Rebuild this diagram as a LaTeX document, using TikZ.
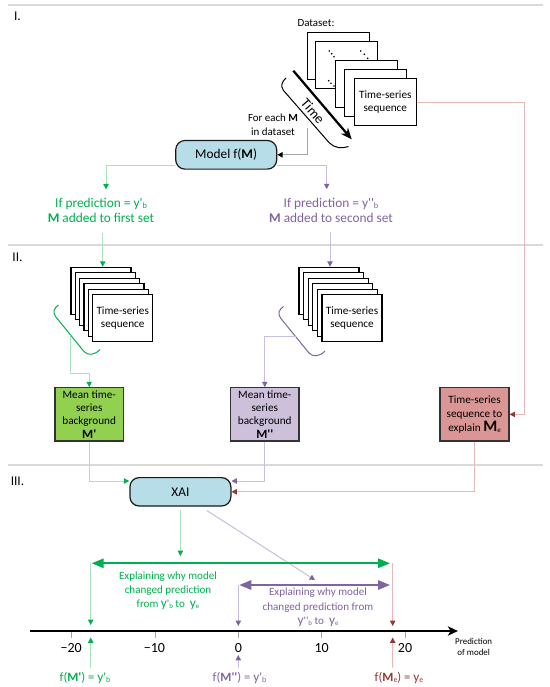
\documentclass[tikz,border=0pt]{standalone}
\usepackage{fontspec}
\newfontfamily\calfont{Carlito}
\usetikzlibrary{arrows.meta,calc}
\definecolor{gtxt}{HTML}{00B050}
\definecolor{gline}{HTML}{A8E4BC}
\definecolor{ptxt}{HTML}{8064A2}
\definecolor{pline}{HTML}{C9BEDD}
\definecolor{rtxt}{HTML}{953735}
\definecolor{rline}{HTML}{E6B9B8}
\definecolor{sepc}{HTML}{D9D9D9}
\definecolor{gfill}{HTML}{92D050}
\definecolor{pfill}{HTML}{CCC0DA}
\definecolor{rfill}{HTML}{DA9694}
\definecolor{bfill}{HTML}{B7DEE8}
\definecolor{conngray}{HTML}{A6A6A6}
\definecolor{tickgray}{HTML}{A6A6A6}
\newcommand{\sbx}[1]{\raisebox{-0.15ex}{\scalebox{0.62}{#1}}}
\newcommand{\yb}{{\fontsize{10}{10}\selectfont y}}
\begin{document}
\begin{tikzpicture}[x=0.75pt,y=-0.75pt,
 sepline/.style={draw=sepc,line width=0.8pt},
 fsec/.style={font=\calfont\fontsize{10}{12}\selectfont},
 fmain/.style={font=\calfont\fontsize{10}{11.7}\selectfont,align=center},
 fbox/.style={font=\calfont\fontsize{8.4}{10}\selectfont,align=center},
 fsmall/.style={font=\calfont\fontsize{8.2}{10.5}\selectfont,align=center},
 fexp/.style={font=\calfont\fontsize{8.3}{10.6}\selectfont,align=center},
 flab/.style={font=\calfont\fontsize{9.5}{11}\selectfont},
 ftick/.style={font=\calfont\fontsize{10.5}{12}\selectfont},
 ftiny/.style={font=\calfont\fontsize{6.7}{8.2}\selectfont,align=center},
 dsbox/.style={draw=black,fill=white,line width=0.75pt,minimum width=46.5pt,minimum height=35.25pt,inner sep=0pt,fbox},
 stbox/.style={draw=black,fill=white,line width=0.8pt,minimum width=45pt,minimum height=35.25pt,inner sep=0pt,fbox},
 colbox/.style={draw=black!80,line width=0.9pt,minimum width=51.2pt,minimum height=40pt,inner sep=0pt,fbox},
 procbox/.style={draw=black!90,fill=bfill,line width=0.9pt,rounded corners=7pt,minimum width=75.75pt,minimum height=21.5pt,inner sep=0pt,font=\calfont\fontsize{10}{12}\selectfont},
 gconn/.style={draw=gline,line width=0.75pt,-{Triangle[length=4pt,width=4pt,color=gtxt]}},
 pconn/.style={draw=pline,line width=0.75pt,-{Triangle[length=4pt,width=4pt,color=ptxt]}},
 rconn/.style={draw=rline,line width=0.75pt,-{Triangle[length=4pt,width=4pt,color=rtxt]}},
 kconn/.style={draw=conngray,line width=0.9pt,-{Triangle[length=4pt,width=4pt,color=black]}},
 gthick/.style={draw=gtxt,line width=1.5pt,{Triangle[length=9pt,width=7pt]}-{Triangle[length=9pt,width=7pt]}},
 pthick/.style={draw=ptxt,line width=1.5pt,{Triangle[length=9pt,width=7pt]}-{Triangle[length=9pt,width=7pt]}},
 tickln/.style={draw=tickgray,line width=0.6pt},
 dsdot/.style={fill=black,circle,inner sep=0pt,minimum size=1.4pt}
]
\fill[white] (0,0) rectangle (550,687);
\path[use as bounding box] (0,0) rectangle (550,687);

% separators
\draw[sepline] (8,5) -- (543,5);
\draw[sepline] (8,245) -- (543,245);
\draw[sepline] (8,465) -- (543,465);
\node[fsec] (secI) at (17.5,16.7) {I.};
\node[fsec] (secII) at (17.5,257) {II.};
\node[fsec] (secIII) at (17.5,481.7) {III.};

% ---------- Section I ----------
\node[fsmall] (dstitle) at (316,23) {Dataset:};
\node[dsbox] (ds1) at (338.3,56.2) {};
\node[dsbox] (ds2) at (346.7,64.8) {};
\node[dsdot] (d1) at (329.3,51) {};
\node[dsdot] (d2) at (331.7,53.7) {};
\node[dsdot] (d3) at (334,56.7) {};
\node[dsdot] (d4) at (360.7,51) {};
\node[dsdot] (d5) at (364.3,54.3) {};
\node[dsdot] (d6) at (367.7,58.3) {};
\node[dsdot] (d7) at (328.7,80.7) {};
\node[dsdot] (d8) at (331,83.3) {};
\node[dsdot] (d9) at (334,86) {};
\node[dsbox] (ds3) at (366.7,83.5) {};
\node[dsbox] (ds4) at (375.3,92.8) {};
\node[dsbox] (ds5) at (385.3,102.2) {Time-series\\sequence};

\coordinate (tA) at (293.3,70.7);
\coordinate (tB) at (351.7,139.3);
\draw[line width=1.7pt,-{Stealth[length=8.5pt,width=7pt]}] (tA) -- (tB);
\node[font=\calfont\fontsize{10.5}{12}\selectfont,rotate=-49.5,inner sep=0pt] (timelbl) at (313,111) {Time};
\draw[line width=0.75pt] (286,78) .. controls (281.5,82) and (280.5,86) .. (283.5,90.5)
  -- (329,142.5) .. controls (334,148) and (342,149) .. (348.5,146.5);

\node[fsmall] (foreach) at (273,125) {For each \textbf{M}\\in dataset};
\node[procbox] (model) at (226.2,154.8) {Model f(\textbf{M})};
\coordinate (fe) at (307.3,127.5);
\draw[kconn] (fe) |- (model.east);

\node[fmain,text=gtxt] (gtext) at (101,210.5) {If prediction = y'\sbx{b}\\\textbf{M} added to first set};
\node[fmain,text=ptxt] (ptext) at (331,210.3) {If prediction = y''\sbx{b}\\\textbf{M} added to second set};
\draw[gconn] ($(model.west)+(0,10.9)$) -| ($(gtext.north)+(5,-4)$);
\draw[pconn] ($(model.east)+(0,10.2)$) -| ($(ptext.north)+(-4.3,-4)$);

% ---------- Section II ----------
\node[stbox] (gs1) at (101,290.8) {};
\node[stbox] (gs2) at (105.3,296.3) {};
\node[stbox] (gs3) at (109.7,301.8) {};
\node[stbox] (gs4) at (114,307.2) {};
\node[stbox] (gs5) at (118.4,312.7) {};
\node[stbox] (gs6) at (122.7,318.2) {Time-series\\sequence};

\node[stbox] (ps1) at (329,290.8) {};
\node[stbox] (ps2) at (333.6,296.3) {};
\node[stbox] (ps3) at (338.2,301.8) {};
\node[stbox] (ps4) at (342.8,307.2) {};
\node[stbox] (ps5) at (347.4,312.7) {};
\node[stbox] (ps6) at (352,318.2) {Time-series\\sequence};

\draw[gconn] ($(gtext.south)+(1.7,5)$) -- ($(gs1.north)+(1.7,0)$);
\draw[pconn] ($(ptext.south)+(-1,5)$) -- ($(ps1.north)+(1,0)$);

\draw[draw=gtxt,line width=0.75pt] (58.5,305) .. controls (54,308) and (52.5,312) .. (55.5,316.5)
  -- (84,351.5) .. controls (88,356) and (95,355) .. (100,349.5);
\draw[draw=ptxt,line width=0.75pt] (283.5,306.5) .. controls (279,309.5) and (277.5,313.5) .. (280.5,318)
  -- (309,353) .. controls (313,357.5) and (320,356.5) .. (325,351);

\node[colbox,fill=gfill] (gbox) at (89.2,414.4) {Mean time-\\series\\background\\\textbf{\fontsize{9.5}{10}\selectfont M'}};
\node[colbox,fill=pfill] (pbox) at (264.8,414.4) {Mean time-\\series\\background\\\textbf{\fontsize{9.5}{10}\selectfont M''}};
\node[colbox,fill=rfill,minimum width=51.8pt,font=\calfont\fontsize{8.4}{10.6}\selectfont] (rbox) at (474.5,414.4) {Time-series\\sequence to\\explain \textbf{\fontsize{12}{10}\selectfont M}\sbx{e}};

\coordinate (gbr) at (70.7,335.2);
\coordinate (pbr) at (295.6,336.5);
\draw[gconn] (gbr) |- ($(gbox.north)+(0,-13.4)$) -- (gbox.north);
\draw[pconn] (pbr) -| (pbox.north);
\draw[rconn] (ds5.east) -| ($(rbox.east)+(15.1,0)$) -- (rbox.east);

% ---------- Section III ----------
\node[procbox,minimum height=21.3pt] (xai) at (180.4,491.8) {XAI};
\draw[gconn] (gbox.south) |- ($(xai.west)+(0,-10.8)$);
\draw[pconn] (pbox.south) |- ($(xai.east)+(0,-10.8)$);
\draw[rconn] (rbox.south) |- (xai.east);

\coordinate (xg) at (180.4,556);
\coordinate (xp) at (315,580);
\draw[gconn] ($(xai.south)+(0,3)$) -- (xg);
\draw[pconn] ($(xai.south)+(26.6,4)$) -- (xp);

% number line
\foreach \tx in {71.7,155,238.3,321.7,405} \draw[tickln] (\tx,631) -- (\tx,637.5);
\coordinate (ax0) at (29.8,631);
\coordinate (ax1) at (457.9,631);
\draw[line width=1.5pt,-{Stealth[length=7.5pt,width=7pt,inset=2pt]}] (ax0) -- (ax1);
\node[ftick] (tm20) at (71.2,647.5) {−20};
\node[ftick] (tm10) at (154.5,647.5) {−10};
\node[ftick] (t0) at (238.3,647.5) {0};
\node[ftick] (t10) at (321.7,647.5) {10};
\node[ftick] (t20) at (405,647.5) {20};
\node[ftiny] (predlbl) at (473.7,647.2) {Prediction\\of model};

% double arrows
\coordinate (gL) at (91.7,563.3);
\coordinate (gR) at (390,563.3);
\coordinate (pL) at (239.3,585);
\coordinate (pR) at (390,585);
\draw[gthick] (gL) -- (gR);
\draw[pthick] (pL) -- (pR);

\node[fexp,text=gtxt] (gexp) at (168,590.5) {Explaining why model\\changed prediction\\from \yb'\sbx{b} to\ \ \yb\sbx{e}};
\node[fexp,text=ptxt] (pexp) at (318,607.3) {Explaining why model\\changed prediction from\\\yb''\sbx{b} to\ \ \yb\sbx{e}};

% markers on axis
\coordinate (gv0) at (90.7,563.3);
\coordinate (gv1) at (90.7,625);
\coordinate (pv0) at (238.3,585);
\coordinate (pv1) at (238.3,626);
\coordinate (rv0) at (392.7,563.3);
\coordinate (rv1) at (392.7,626);
\draw[gconn] (gv0) -- (gv1);
\draw[pconn] (pv0) -- (pv1);
\draw[rconn] (rv0) -- (rv1);

\node[flab,text=gtxt] (glab) at (85,678) {f(\textbf{M'}) = \yb'\sbx{b}};
\node[flab,text=ptxt] (plab) at (239.5,678) {f(\textbf{M''}) = \yb'\sbx{b}};
\node[flab,text=rtxt] (rlab) at (399,678) {f(\textbf{M}\sbx{e}) = \yb\sbx{e}};

\coordinate (gu1) at (90.7,637.5);
\coordinate (pu1) at (238.3,655);
\coordinate (ru1) at (392.7,637.5);
\draw[gconn] ($(glab.north)+(5.7,0)$) -- (gu1);
\draw[pconn] ($(plab.north)+(-1.2,0)$) -- (pu1);
\draw[rconn] ($(rlab.north)+(-6.3,0)$) -- (ru1);
\end{tikzpicture}
\end{document}
